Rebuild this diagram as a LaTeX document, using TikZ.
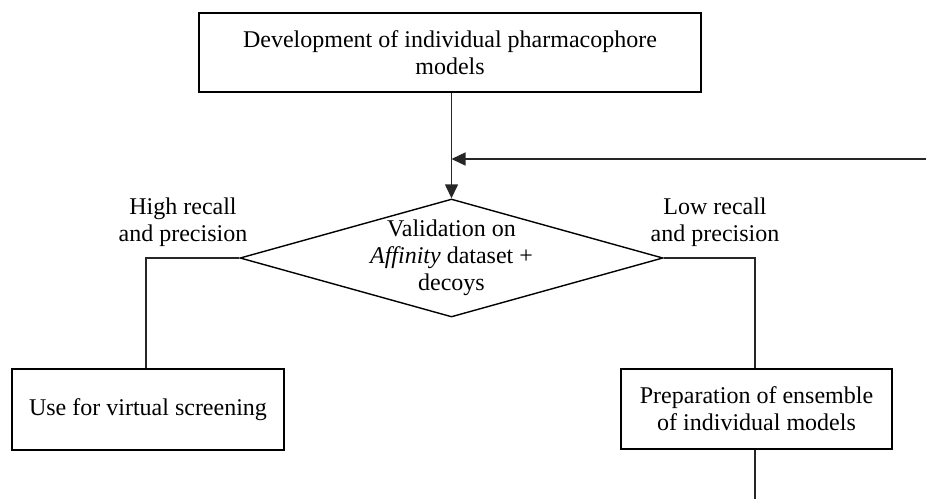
\documentclass[tikz,border=0pt]{standalone}
\usepackage{fontspec}
\setmainfont{Liberation Serif}
\usetikzlibrary{arrows.meta,shapes.geometric}
\begin{document}
\begin{tikzpicture}[x=1pt,y=-1pt,
  every node/.style={font=\fontsize{24}{27}\selectfont, align=center, inner sep=0pt},
  box/.style={draw=black, line width=1.5pt, rectangle},
  conn/.style={draw=black!85, line width=1.4pt},
  arr/.style={conn, -{Triangle[length=14pt,width=13pt]}}
]
\useasboundingbox (0,0) rectangle (926,499);
% boxes
\node[box, minimum width=502pt, minimum height=79pt] (dev) at (450,52.5)
  {Development of individual pharmacophore\\models};
\node[draw=black, line width=1.4pt, shape=diamond, minimum width=423pt, minimum height=118pt] (val) at (451.5,258) {};
\node (valtxt) at (451.5,258) {Validation on\\\textit{Affinity} dataset +\\decoys};
\node[box, minimum width=272pt, minimum height=81pt] (use) at (148,409.5)
  {Use for virtual screening};
\node[box, minimum width=271pt, minimum height=80pt] (prep) at (756.5,409)
  {Preparation of ensemble\\of individual models};
% labels
\node (hi) at (183,222) {High recall\\and precision};
\node (lo) at (715,222) {Low recall\\and precision};
% free-end coordinates
\coordinate (fb) at (926,159);
\coordinate (jn) at (451.5,159);
\coordinate (lc) at (146,258);
\coordinate (rc) at (755,258);
\coordinate (bot) at (755,499);
% connectors
\draw[arr] (dev.south -| val.north) -- (val.north);
\draw[arr] (fb) -- (jn);
\draw[conn] (val.west) -- (lc) -- (lc |- use.north);
\draw[conn] (val.east) -- (rc) -- (rc |- prep.north);
\draw[conn] (rc |- prep.south) -- (bot);
\end{tikzpicture}
\end{document}
